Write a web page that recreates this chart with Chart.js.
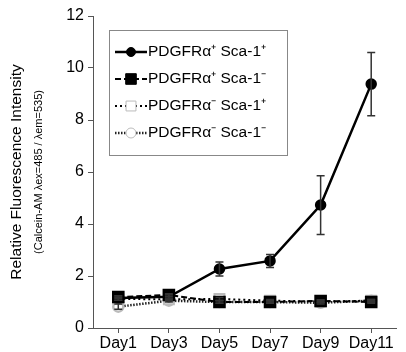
<!DOCTYPE html>
<html>
<head>
<meta charset="utf-8">
<script src="https://cdn.jsdelivr.net/npm/chart.js@4"></script>
<style>
  html, body { margin: 0; padding: 0; background: #fff; }
  #wrap { width: 406px; height: 352px; position: relative; }
</style>
</head>
<body>
<div id="wrap"><canvas id="c"></canvas></div>
<script>
const days = ['Day1', 'Day3', 'Day5', 'Day7', 'Day9', 'Day11'];
const yTicks = [0, 2, 4, 6, 8, 10, 12];

const posPos = [1.15, 1.2, 2.27, 2.58, 4.73, 9.38];
const posPosErr = [0.08, 0.08, 0.27, 0.25, 1.13, 1.22];
const posNeg = [1.19, 1.27, 1.0, 1.0, 1.04, 1.0];
const posNegErr = [0.05, 0.05, 0.05, 0.05, 0.05, 0.05];
const negPos = [1.12, 1.1, 1.12, 1.05, 1.02, 1.05];
const negPosErr = [0.05, 0.05, 0.05, 0.05, 0.05, 0.05];
const negNeg = [0.82, 1.05, 1.0, 1.0, 0.97, 1.05];
const negNegErr = [0.1, 0.05, 0.05, 0.05, 0.05, 0.05];

const FONT = '"Liberation Sans", Arial, sans-serif';

// error bars drawn through the chart's own scales
const errorBars = {
  id: 'errorBars',
  afterDatasetsDraw(chart) {
    const ctx = chart.ctx;
    const x = chart.scales.x, y = chart.scales.y;
    ctx.save();
    ctx.strokeStyle = '#333';
    ctx.lineWidth = 1.5;
    chart.data.datasets.forEach(ds => {
      if (!ds.err) return;
      ds.data.forEach((v, i) => {
        const px = x.getPixelForValue(i);
        const top = y.getPixelForValue(v + ds.err[i]);
        const bot = y.getPixelForValue(v - ds.err[i]);
        ctx.beginPath();
        ctx.moveTo(px, top); ctx.lineTo(px, bot);
        ctx.moveTo(px - 4, top); ctx.lineTo(px + 4, top);
        ctx.moveTo(px - 4, bot); ctx.lineTo(px + 4, bot);
        ctx.stroke();
      });
    });
    ctx.restore();
  }
};

// legend box inside the plot and the two-line y title
const extras = {
  id: 'extras',
  afterDraw(chart) {
    const ctx = chart.ctx;
    const area = chart.chartArea;
    ctx.save();
    // y title
    const cy = (area.top + area.bottom) / 2;
    ctx.fillStyle = '#000';
    ctx.textAlign = 'center';
    ctx.textBaseline = 'middle';
    ctx.translate(17, cy);
    ctx.rotate(-Math.PI / 2);
    ctx.font = '15.5px ' + FONT;
    ctx.fillText('Relative Fluorescence Intensity', 0, 0);
    ctx.font = '11px ' + FONT;
    ctx.fillText('(Calcein-AM \u03bbex=485 / \u03bbem=535)', 0, 22);
    ctx.restore();

    // legend
    ctx.save();
    const bx = 109, by = 30, bw = 178, bh = 125;
    ctx.strokeStyle = '#888';
    ctx.lineWidth = 1;
    ctx.strokeRect(bx + 0.5, by + 0.5, bw, bh);
    ctx.font = '15.5px ' + FONT;
    ctx.textBaseline = 'middle';
    ctx.textAlign = 'left';
    chart.data.datasets.forEach((ds, i) => {
      const ly = 52 + i * 27;
      ctx.save();
      ctx.strokeStyle = ds.borderColor;
      ctx.lineWidth = ds.borderWidth;
      ctx.setLineDash(ds.borderDash || []);
      ctx.beginPath();
      ctx.moveTo(115, ly); ctx.lineTo(147, ly);
      ctx.stroke();
      ctx.restore();
      ctx.save();
      ctx.fillStyle = ds.pointBackgroundColor;
      ctx.strokeStyle = ds.pointBorderColor;
      ctx.lineWidth = 1;
      ctx.beginPath();
      if (ds.pointStyle === 'circle') {
        ctx.arc(131, ly, ds.pointRadius, 0, Math.PI * 2);
      } else {
        const s = ds.pointRadius * Math.SQRT1_2;
        ctx.rect(131 - s, ly - s, 2 * s, 2 * s);
      }
      ctx.fill(); ctx.stroke();
      ctx.restore();
      ctx.fillStyle = '#000';
      ctx.fillText(ds.label, 148, ly);
    });
    ctx.restore();
  }
};

new Chart(document.getElementById('c'), {
  type: 'line',
  data: {
    labels: days,
    datasets: [
      {
        label: 'PDGFR\u03b1\u207a Sca-1\u207a',
        data: posPos, err: posPosErr,
        borderColor: '#000', borderWidth: 2.5,
        pointStyle: 'circle', pointRadius: 4.5,
        pointBackgroundColor: '#000', pointBorderColor: '#000',
        order: 1
      },
      {
        label: 'PDGFR\u03b1\u207a Sca-1\u207b',
        data: posNeg, err: posNegErr,
        borderColor: '#000', borderWidth: 2, borderDash: [6, 3],
        pointStyle: 'rect', pointRadius: 7.5,
        pointBackgroundColor: '#000', pointBorderColor: '#000',
        order: 0
      },
      {
        label: 'PDGFR\u03b1\u207b Sca-1\u207a',
        data: negPos, err: negPosErr,
        borderColor: '#000', borderWidth: 2, borderDash: [2, 3],
        pointStyle: 'rect', pointRadius: 7,
        pointBackgroundColor: '#fff', pointBorderColor: '#bbb',
        order: 2
      },
      {
        label: 'PDGFR\u03b1\u207b Sca-1\u207b',
        data: negNeg, err: negNegErr,
        borderColor: '#222', borderWidth: 2.5, borderDash: [1.5, 1.5],
        pointStyle: 'circle', pointRadius: 5,
        pointBackgroundColor: '#fff', pointBorderColor: '#bbb',
        order: 3
      }
    ]
  },
  options: {
    responsive: true,
    maintainAspectRatio: false,
    animation: false,
    layout: { padding: { top: 16, right: 0, left: 0, bottom: 0 } },
    plugins: {
      legend: { display: false },
      tooltip: { enabled: false }
    },
    scales: {
      x: {
        type: 'category',
        offset: true,
        afterFit: s => { s.height = 24; },
        grid: { display: true, drawOnChartArea: false, drawTicks: true, tickLength: 5, offset: false, color: '#555' },
        border: { display: true, color: '#555', width: 1 },
        ticks: { color: '#000', font: { family: FONT, size: 16 }, padding: 1, maxRotation: 0, autoSkip: false }
      },
      y: {
        min: 0, max: 12,
        afterFit: s => { s.width = 93; },
        afterBuildTicks: s => { s.ticks = yTicks.map(v => ({ value: v })); },
        grid: { display: true, drawOnChartArea: false, drawTicks: true, tickLength: 5, color: '#555' },
        border: { display: true, color: '#555', width: 1 },
        ticks: { color: '#000', font: { family: FONT, size: 16 }, padding: 4 }
      }
    }
  },
  plugins: [errorBars, extras]
});
</script>
</body>
</html>
